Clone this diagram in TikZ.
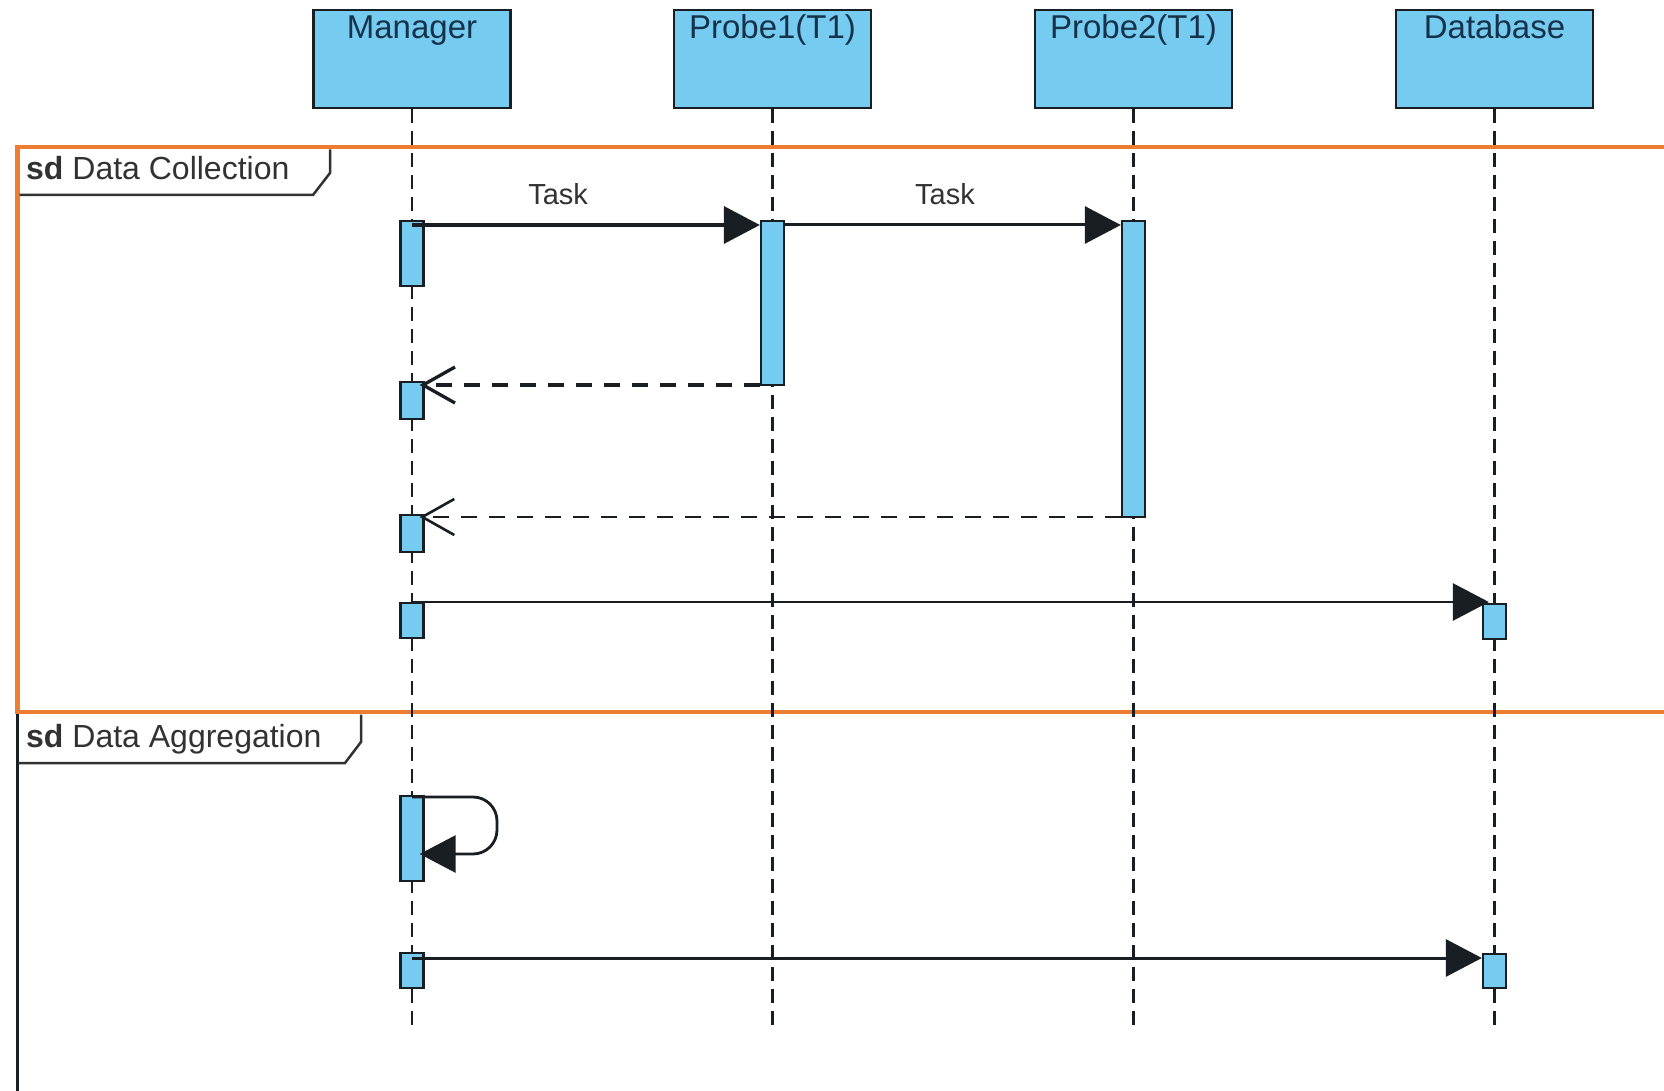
\documentclass[tikz,border=0pt]{standalone}
\usepackage{fontspec}
\setmainfont{Liberation Sans}
\usetikzlibrary{arrows.meta,calc}
\definecolor{actblue}{RGB}{117,203,240}
\definecolor{frameorange}{RGB}{237,125,49}
\definecolor{inkdark}{RGB}{25,30,35}
\definecolor{headtext}{RGB}{22,50,75}
\definecolor{labeltext}{RGB}{50,50,50}
\begin{document}
\begin{tikzpicture}[x=1pt,y=-1pt,
  head/.style={draw=inkdark, line width=2.5pt, fill=actblue, minimum width=197pt, minimum height=98pt, inner sep=0pt},
  headlbl/.style={anchor=base, text=headtext, inner sep=0pt, font=\fontsize{33}{40}\selectfont},
  lifeline/.style={draw=inkdark, line width=2.2pt, dash pattern=on 14pt off 8pt},
  act/.style={draw=inkdark, line width=2.3pt, fill=actblue, minimum width=23pt, inner sep=0pt},
  msgline/.style={draw=inkdark, line width=2.8pt, -{Triangle[length=36pt,width=37pt]}},
  retline/.style={draw=inkdark, line width=2.6pt, dash pattern=on 16pt off 12pt, -{Straight Barb[length=32pt,width=36pt]}},
  tasklbl/.style={anchor=base, yshift=20pt, inner sep=0pt, text=labeltext, font=\fontsize{29}{34}\selectfont},
  tabtxt/.style={anchor=base west, inner sep=0pt, text=labeltext, font=\fontsize{32}{38}\selectfont},
  tabline/.style={draw=labeltext, line width=2.5pt, fill=white}
]
\useasboundingbox (0,0) rectangle (1664,1091);
\fill[white] (0,0) rectangle (1664,1091);

% second frame (black)
\draw[inkdark, line width=3pt] (17,1100) -- (17,712) -- (1700,712);
% first frame (orange)
\draw[frameorange, line width=4.5pt] (1700,147) -- (17.5,147) -- (17.5,712) -- (1700,712);

% tabs
\draw[tabline] (19.5,195) -- (313,195) -- (330,173) -- (330,149.5);
\node[tabtxt] (tab1) at (26,180) {\textbf{sd} Data Collection};
\draw[tabline] (18.5,763) -- (345,763) -- (361,742) -- (361,714.5);
\node[tabtxt] (tab2) at (26,747) {\textbf{sd} Data Aggregation};

% headers
\node[head] (man) at (412,59) {};
\node[head] (pr1) at (772.5,59) {};
\node[head] (pr2) at (1133.5,59) {};
\node[head] (db)  at (1494.5,59) {};
\node[headlbl] (manT) at (412,39) {Manager};
\node[headlbl] (pr1T) at (772.5,39) {Probe1(T1)};
\node[headlbl] (pr2T) at (1133.5,39) {Probe2(T1)};
\node[headlbl] (dbT)  at (1494.5,39) {Database};

% lifeline ends
\coordinate (manEnd) at (412,1028);
\coordinate (pr1End) at (772.5,1028);
\coordinate (pr2End) at (1133.5,1028);
\coordinate (dbEnd)  at (1494.5,1028);
\draw[lifeline] (man.south) -- (manEnd);
\draw[lifeline] (pr1.south) -- (pr1End);
\draw[lifeline] (pr2.south) -- (pr2End);
\draw[lifeline] (db.south) -- (dbEnd);

% activations
\node[act, minimum height=65pt]  (m1)  at (412,253.5) {};
\node[act, minimum height=164pt] (p1a) at (772.5,303) {};
\node[act, minimum height=296pt] (p2a) at (1133.5,369) {};
\node[act, minimum height=37pt]  (m2)  at (412,400.5) {};
\node[act, minimum height=37pt]  (m3)  at (412,533.5) {};
\node[act, minimum height=35pt]  (m4)  at (412,620.5) {};
\node[act, minimum height=35pt]  (d1)  at (1494.5,621.5) {};
\node[act, minimum height=85pt]  (s1)  at (412,838.5) {};
\node[act, minimum height=35pt]  (m5)  at (412,970.5) {};
\node[act, minimum height=34pt]  (d2)  at (1494.5,971) {};

% message rows
\coordinate (rowTask) at (0,225);
\coordinate (rowRet1) at (0,385);
\coordinate (rowRet2) at (0,517);
\coordinate (rowDb1) at (0,602);
\coordinate (rowLoopT) at (0,797);
\coordinate (rowLoopB) at (0,854);
\coordinate (rowDb2) at (0,958);

% messages
\draw[msgline, line width=3.6pt] (m1.north |- rowTask) -- node[tasklbl, pos=.42] (task1) {Task} (p1a.west |- rowTask);
\draw[msgline, line width=3pt] (p1a.east |- rowTask) -- node[tasklbl, pos=.476] (task2) {Task} (p2a.west |- rowTask);

\draw[retline, line width=3.3pt] (p1a.west |- rowRet1) -- ($(m2.east |- rowRet1)+(-5pt,0pt)$);
\draw[retline] (p2a.west |- rowRet2) -- ($(m3.east |- rowRet2)+(-5pt,0pt)$);

\draw[msgline] (m4.north |- rowDb1) -- ($(d1.west |- rowDb1)+(7pt,0pt)$);

\coordinate (loopA) at (497,797);
\coordinate (loopB) at (497,854);
\draw[msgline, rounded corners=24pt] (s1.north |- rowLoopT) -- (loopA) -- (loopB) -- ($(s1.east |- rowLoopB)+(-5pt,0pt)$);

\draw[msgline, line width=3pt] (m5.north |- rowDb2) -- (d2.west |- rowDb2);
\end{tikzpicture}
\end{document}
